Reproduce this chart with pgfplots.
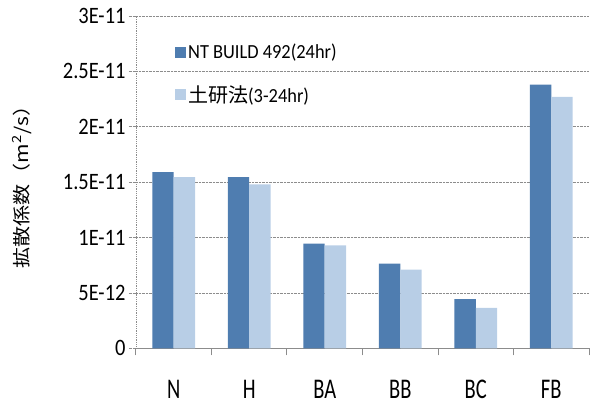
\documentclass[border=0pt]{standalone}
\usepackage{fontspec}
\setmainfont{Carlito}
\newfontfamily\tickfont[FakeStretch=0.87]{Carlito}
\newfontfamily\xlfont[FakeStretch=0.72]{Carlito}
\newfontfamily\legfont[FakeStretch=0.92]{Carlito}
\newfontfamily\cjk{Noto Sans CJK JP}
\newfontfamily\cjkwide[FakeStretch=1.17]{Noto Sans CJK JP}
\usepackage{pgfplots}
\pgfplotsset{compat=1.18}
\definecolor{dark}{HTML}{4F7DB0}
\definecolor{light}{HTML}{B8CEE6}
\definecolor{gridc}{HTML}{8C8C8C}
\begin{document}
\begin{tikzpicture}
\useasboundingbox (-136bp,-58.7bp) rectangle (459bp,348.3bp);
\begin{axis}[
  at={(0,0)}, anchor=south west,
  scale only axis, width=453bp, height=332.3bp,
  xmin=-0.5, xmax=5.5, ymin=0, ymax=3e-11,
  ybar=0pt, bar width=21.3bp,
  axis lines=left, axis line style={-},
  x axis line style={gridc, line width=1.5bp},
  y axis line style={gridc, densely dotted, line width=0.8bp},
  ymajorgrids, major grid style={gridc, densely dotted, line width=0.8bp},
  ytick={0,5e-12,1e-11,1.5e-11,2e-11,2.5e-11,3e-11},
  yticklabels={0,5E-12,1E-11,1.5E-11,2E-11,2.5E-11,3E-11},
  scaled y ticks=false,
  xtick={-0.5,0.5,...,5.5}, xticklabels={},
  extra x ticks={0,1,2,3,4,5},
  extra x tick labels={N,H,BA,BB,BC,FB},
  extra x tick style={major tick length=0pt, xticklabel style={inner sep=0pt, anchor=north, yshift=-32bp}},
  tick align=outside, major tick length=7bp,
  xtick style={gridc, line width=1bp},
  ytick style={gridc, densely dotted, line width=0.8bp},
  yticklabel style={font=\tickfont\fontsize{23.5bp}{26bp}\selectfont},
  xticklabel style={font=\xlfont\fontsize{28.5bp}{32bp}\selectfont},
  /pgf/number format/assume math mode=true,
  ylabel={\cjkwide\fontsize{18bp}{22bp}\selectfont 拡散係数（m\textsuperscript{2}/s）},
  ylabel style={at={(axis description cs:-0.2517,0.5)}, anchor=center},
  legend style={at={(rel axis cs:0.086,0.922)}, anchor=north west, draw=none, fill=none,
    font=\legfont\fontsize{20bp}{24bp}\selectfont, row sep=21bp, inner sep=0pt,
    cells={anchor=west}},
  legend image code/.code={\fill[#1] (0bp,-5.5bp) rectangle (11bp,5.5bp);},
]
\addplot[fill=dark, draw=none] coordinates {(0,1.59e-11) (1,1.545e-11) (2,9.45e-12) (3,7.65e-12) (4,4.45e-12) (5,2.38e-11)};
\addlegendentry{NT BUILD 492(24hr)}
\addplot[fill=light, draw=none] coordinates {(0,1.545e-11) (1,1.48e-11) (2,9.3e-12) (3,7.1e-12) (4,3.65e-12) (5,2.27e-11)};
\addlegendentry{{\cjk 土研法}(3-24hr)}
\end{axis}
\end{tikzpicture}
\end{document}
